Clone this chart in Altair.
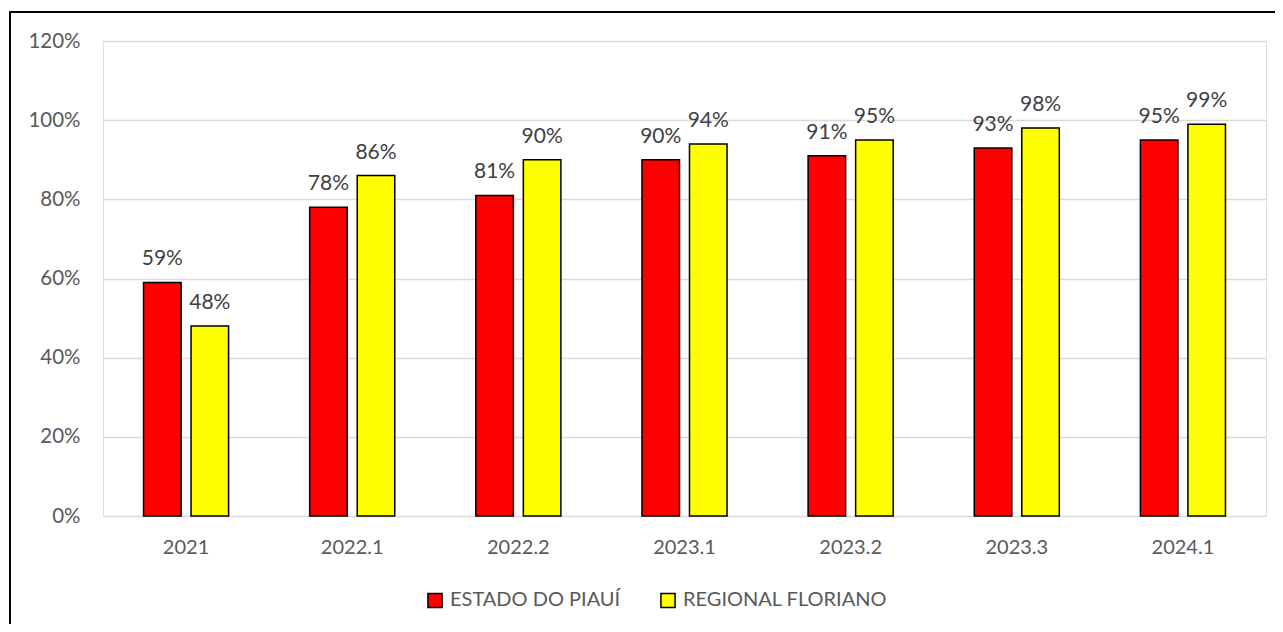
import altair as alt
import pandas as pd

periodos = ["2021", "2022.1", "2022.2", "2023.1", "2023.2", "2023.3", "2024.1"]
estado_piaui = [0.59, 0.78, 0.81, 0.90, 0.91, 0.93, 0.95]
regional_floriano = [0.48, 0.86, 0.90, 0.94, 0.95, 0.98, 0.99]
series = ["ESTADO DO PIAUÍ", "REGIONAL FLORIANO"]
cores = ["#FF0000", "#FFFF00"]
y_ticks = [0, 0.2, 0.4, 0.6, 0.8, 1.0, 1.2]

rows = []
for p, a, b in zip(periodos, estado_piaui, regional_floriano):
    rows.append({"periodo": p, "serie": series[0], "valor": a})
    rows.append({"periodo": p, "serie": series[1], "valor": b})
df = pd.DataFrame(rows)

FONT = "Lato"
W, H = 1163, 475

x_enc = alt.X("periodo:N", sort=periodos, title=None,
              scale=alt.Scale(paddingInner=0.488, paddingOuter=0.244),
              axis=alt.Axis(labelAngle=0, domain=False, ticks=False, labelPadding=21,
                            labelFontSize=20, labelColor="#595959", labelFont=FONT, grid=False))
xo_enc = alt.XOffset("serie:N", sort=series,
                     scale=alt.Scale(paddingInner=0.21, paddingOuter=0))
y_enc = alt.Y("valor:Q", title=None,
              scale=alt.Scale(domain=[0, 1.2], nice=False),
              axis=alt.Axis(values=y_ticks, format=".0%", domain=False, ticks=False,
                            labelPadding=23, labelFontSize=20.5, labelColor="#595959",
                            labelFont=FONT, gridColor="#d9d9d9", gridWidth=1.5))

base = alt.Chart(df)

bars = base.mark_bar(stroke="black", strokeWidth=1.5).encode(
    x=x_enc, xOffset=xo_enc, y=y_enc,
    color=alt.Color("serie:N", sort=series,
                    scale=alt.Scale(domain=series, range=cores),
                    legend=alt.Legend(title=None, orient="none", direction="horizontal",
                                      legendX=322, legendY=549,
                                      symbolType="square", symbolSize=200,
                                      symbolStrokeColor="black", symbolStrokeWidth=1.5,
                                      labelFontSize=20, labelColor="#595959", labelFont=FONT,
                                      labelLimit=400,
                                      columnPadding=36, labelOffset=5))
)

labels = base.mark_text(baseline="alphabetic", dy=-17, fontSize=21, color="#404040", font=FONT).encode(
    x=alt.X("periodo:N", sort=periodos),
    xOffset=alt.XOffset("serie:N", sort=series),
    y="valor:Q",
    text=alt.Text("valor:Q", format=".0%")
)

frame = alt.Chart(pd.DataFrame({"k": [0]})).mark_rect(
    fill=None, stroke="black", strokeWidth=2
).encode(
    x=alt.value(-93), x2=alt.value(W + 40),
    y=alt.value(-29), y2=alt.value(H + 200)
)

chart = alt.layer(frame, bars, labels).properties(
    width=W, height=H,
    padding={"left": 95, "top": 33, "right": 9, "bottom": 108},
    autosize=alt.AutoSizeParams(type="none"),
).configure_view(stroke=None).configure(background="white")

chart.save("out.html", embed_options={"renderer": "svg", "actions": False})
